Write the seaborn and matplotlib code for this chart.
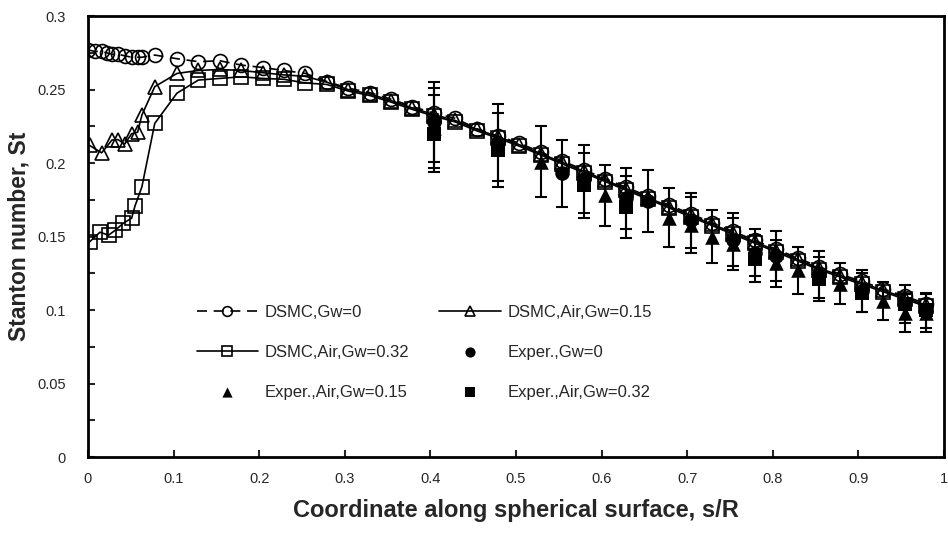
import numpy as np
import pandas as pd
import matplotlib
matplotlib.use("Agg")
import matplotlib.pyplot as plt
from matplotlib.ticker import MultipleLocator, FuncFormatter
import seaborn as sns

# DSMC curves
x_gw0 = [0.000, 0.008, 0.016, 0.022, 0.028, 0.035, 0.043, 0.051, 0.058, 0.063, 0.078, 0.104]
y_gw0 = [0.277, 0.276, 0.276, 0.275, 0.274, 0.274, 0.273, 0.272, 0.272, 0.272, 0.2735, 0.271]
x_g15 = [0.002, 0.016, 0.028, 0.035, 0.043, 0.051, 0.058, 0.063, 0.078, 0.104]
y_g15 = [0.212, 0.207, 0.2157, 0.216, 0.213, 0.220, 0.221, 0.2327, 0.252, 0.261]
x_g32 = [0.002, 0.014, 0.024, 0.032, 0.041, 0.051, 0.055, 0.063, 0.078, 0.104]
y_g32 = [0.1465, 0.153, 0.151, 0.1544, 0.159, 0.1626, 0.171, 0.1839, 0.227, 0.2476]

# shared grid after the stagnation region
x_grid = [0.129, 0.154, 0.179, 0.204, 0.229, 0.254, 0.279, 0.304, 0.329, 0.354,
          0.379, 0.404, 0.429, 0.454, 0.479, 0.504, 0.529, 0.554, 0.579, 0.604,
          0.629, 0.654, 0.679, 0.704, 0.729, 0.754, 0.779, 0.804, 0.829, 0.854,
          0.879, 0.904, 0.929, 0.954, 0.979]
y_gw0_grid = [0.269, 0.2696, 0.2667, 0.265, 0.263, 0.261, 0.2555, 0.251, 0.248, 0.2435,
              0.2385, 0.234, 0.2305, 0.2235, 0.2185, 0.2135, 0.2075, 0.2015, 0.1955, 0.1895,
              0.1835, 0.1775, 0.1715, 0.1655, 0.1595, 0.1535, 0.1475, 0.1415, 0.1355, 0.1295,
              0.1245, 0.1195, 0.1145, 0.1095, 0.1045]
y_g15_grid = [0.263, 0.2637, 0.263, 0.2615, 0.260, 0.259, 0.255, 0.250, 0.247, 0.2425,
              0.2375, 0.233, 0.229, 0.223, 0.218, 0.2125, 0.2065, 0.2005, 0.1945, 0.1885,
              0.1825, 0.1765, 0.1705, 0.1645, 0.1585, 0.1525, 0.1465, 0.1405, 0.1345, 0.1285,
              0.1235, 0.1185, 0.1135, 0.1085, 0.1035]
y_g32_grid = [0.2565, 0.2576, 0.2587, 0.2576, 0.257, 0.2545, 0.2535, 0.249, 0.246, 0.2415,
              0.2365, 0.232, 0.228, 0.222, 0.217, 0.2115, 0.2055, 0.1995, 0.1935, 0.1875,
              0.1815, 0.1755, 0.1695, 0.1635, 0.1575, 0.1515, 0.1455, 0.1395, 0.1335, 0.1275,
              0.1225, 0.1175, 0.1125, 0.1075, 0.1025]

# experiments with error bars
xe_gw0 = [0.404, 0.479, 0.554, 0.579, 0.629, 0.654, 0.704, 0.754, 0.779, 0.804, 0.854, 0.904]
ye_gw0 = [0.228, 0.214, 0.193, 0.189, 0.176, 0.174, 0.161, 0.148, 0.139, 0.137, 0.124, 0.113]
ee_gw0 = [0.027, 0.026, 0.023, 0.023, 0.021, 0.021, 0.019, 0.018, 0.016, 0.017, 0.016, 0.014]
xe_g15 = [0.404, 0.529, 0.604, 0.679, 0.704, 0.729, 0.754, 0.804, 0.829, 0.879, 0.929, 0.954, 0.979]
ye_g15 = [0.224, 0.201, 0.178, 0.163, 0.158, 0.150, 0.145, 0.132, 0.127, 0.118, 0.106, 0.098, 0.098]
ee_g15 = [0.027, 0.024, 0.021, 0.020, 0.019, 0.018, 0.018, 0.016, 0.016, 0.014, 0.013, 0.013, 0.013]
xe_g32 = [0.404, 0.479, 0.579, 0.629, 0.779, 0.854, 0.904, 0.954, 0.979]
ye_g32 = [0.220, 0.209, 0.185, 0.170, 0.135, 0.121, 0.112, 0.104, 0.100]
ee_g32 = [0.026, 0.025, 0.022, 0.021, 0.016, 0.015, 0.013, 0.013, 0.012]

sns.set_style("ticks")
plt.rcParams['font.family'] = ['Liberation Sans', 'DejaVu Sans']

fig = plt.figure(figsize=(9.48, 5.36), dpi=100)
ax = fig.add_axes([0.0928, 0.147, 0.903, 0.823])

open_kw = dict(color="black", lw=1.2, markerfacecolor="none", markeredgecolor="black",
               markeredgewidth=1.2, markersize=10, zorder=3)

# experiments first (under the open markers)
for xs, ys, es, m, lab in [(xe_gw0, ye_gw0, ee_gw0, "o", "Exper.,Gw=0"),
                           (xe_g15, ye_g15, ee_g15, "^", "Exper.,Air,Gw=0.15"),
                           (xe_g32, ye_g32, ee_g32, "s", "Exper.,Air,Gw=0.32")]:
    ax.errorbar(xs, ys, yerr=es, fmt="none", ecolor="black", elinewidth=1.5,
                capsize=4.5, capthick=1.5, zorder=1)
    sns.scatterplot(x=xs, y=ys, marker=m, color="black", s=110, linewidth=0,
                    ax=ax, label=lab, zorder=2)

sns.lineplot(x=x_gw0 + x_grid, y=y_gw0 + y_gw0_grid, marker="o", linestyle="--",
             dashes=False, ax=ax, label="DSMC,Gw=0", **open_kw)
ax.lines[-1].set_dashes([6, 4])
sns.lineplot(x=x_g15 + x_grid, y=y_g15 + y_g15_grid, marker="^", ax=ax,
             label="DSMC,Air,Gw=0.15", **open_kw)
sns.lineplot(x=x_g32 + x_grid, y=y_g32 + y_g32_grid, marker="s", ax=ax,
             label="DSMC,Air,Gw=0.32", **open_kw)

ax.set_xlim(0, 1)
ax.set_ylim(0, 0.3)
ax.xaxis.set_major_locator(MultipleLocator(0.1))
ax.yaxis.set_major_locator(MultipleLocator(0.05))
ax.yaxis.set_minor_locator(MultipleLocator(0.025))
fmt = FuncFormatter(lambda v, p: f"{v:g}")
ax.xaxis.set_major_formatter(fmt)
ax.yaxis.set_major_formatter(fmt)
ax.tick_params(axis="both", which="both", direction="in", labelsize=10.5, width=1.5)
ax.tick_params(axis="x", which="major", length=5, pad=11)
ax.tick_params(axis="y", which="both", length=5, pad=16)
for sp in ax.spines.values():
    sp.set_linewidth(2)
    sp.set_color("black")

ax.set_xlabel("Coordinate along spherical surface, s/R", fontsize=17, fontweight="bold", labelpad=9)
ax.set_ylabel("Stanton number, St", fontsize=16.5, fontweight="bold", labelpad=5)

handles, labels = ax.get_legend_handles_labels()
order = ["DSMC,Gw=0", "DSMC,Air,Gw=0.32", "Exper.,Air,Gw=0.15",
         "DSMC,Air,Gw=0.15", "Exper.,Gw=0", "Exper.,Air,Gw=0.32"]
hmap = dict(zip(labels, handles))
ax.legend([hmap[k] for k in order], order, ncol=2, frameon=False, fontsize=12,
          loc="center", bbox_to_anchor=(0.393, 0.238), handlelength=3.7,
          labelspacing=1.5, columnspacing=1.8, markerscale=0.7, handletextpad=0.4)

fig.savefig("out.png", dpi=100)
